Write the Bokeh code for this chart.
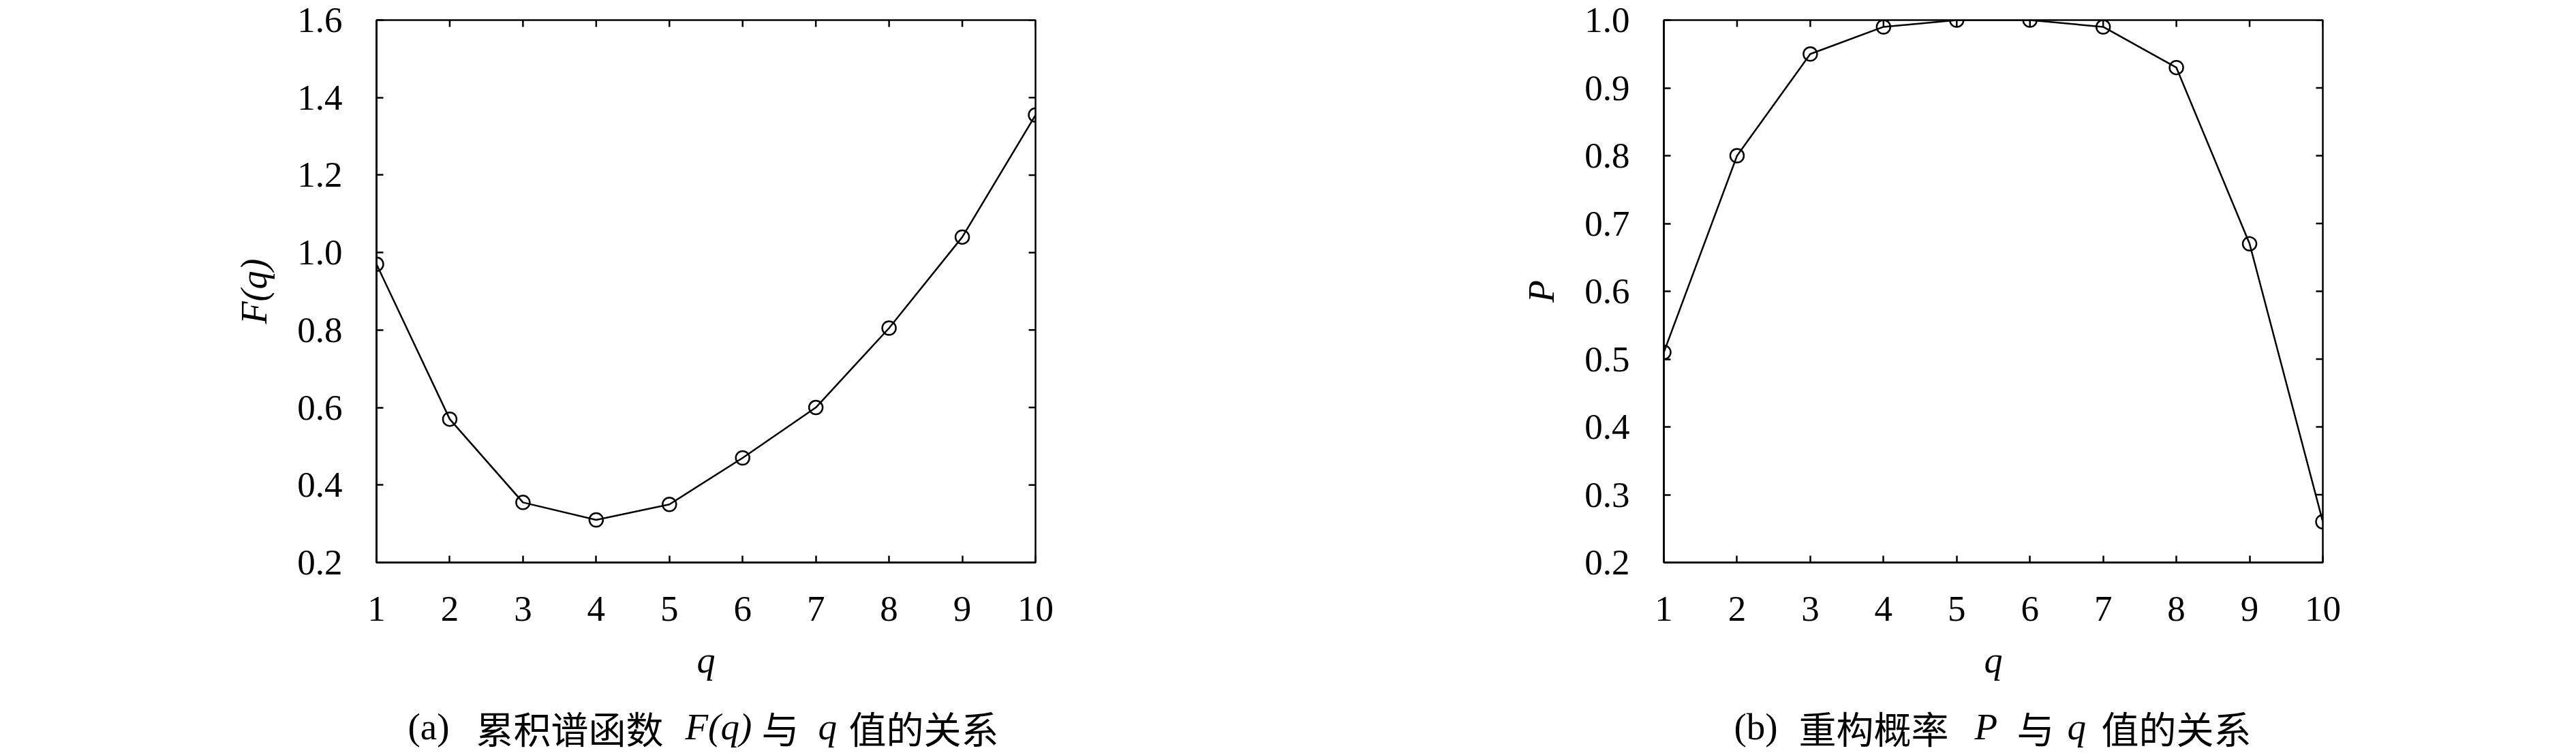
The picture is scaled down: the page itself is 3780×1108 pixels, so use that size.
import math
from bokeh.plotting import figure
from bokeh.layouts import row, column
from bokeh.models import FixedTicker, Range1d, Label, PrintfTickFormatter
from bokeh.embed import file_html
from bokeh.resources import INLINE

# ---------------- data ----------------
q_values = [1, 2, 3, 4, 5, 6, 7, 8, 9, 10]
F_values = [0.97, 0.57, 0.355, 0.31, 0.35, 0.47, 0.60, 0.805, 1.04, 1.355]
P_values = [0.51, 0.80, 0.95, 0.99, 1.00, 1.00, 0.99, 0.93, 0.67, 0.26]

x_ticks = [1, 2, 3, 4, 5, 6, 7, 8, 9, 10]
F_ticks = [0.2, 0.4, 0.6, 0.8, 1.0, 1.2, 1.4, 1.6]
P_ticks = [0.2, 0.3, 0.4, 0.5, 0.6, 0.7, 0.8, 0.9, 1.0]

x_label = "q"
F_label = "F(q)"
P_label = "P"

# caption pieces: (text, kind)  kind: "latin", "cjk", "math"
caption_a = [("(a)", "latin"), ("累积谱函数", "cjk"), ("F(q)", "math"),
             ("与", "cjk"), ("q", "math"), ("值的关系", "cjk")]
caption_b = [("(b)", "latin"), ("重构概率", "cjk"), ("P", "math"),
             ("与", "cjk"), ("q", "math"), ("值的关系", "cjk")]
# horizontal offsets of caption pieces from the plot frame's left edge (px)
caption_a_pos = [46, 146, 453, 565, 648, 693]
caption_b_pos = [103, 198, 456, 518, 592, 642]

SERIF = "Liberation Serif"
CJK = "Noto Sans CJK SC"
FS = "53px"
LW = 2.5
TICK = 10
MAIN_H = 1020
CAP_H = 88


def make_panel(xs, ys, y_range, y_ticks, y_label, width, border_left):
    frame_w = 967
    p = figure(width=width, height=MAIN_H,
               x_range=Range1d(1, 10), y_range=Range1d(*y_range),
               output_backend="svg", toolbar_location=None,
               min_border_left=border_left,
               min_border_right=width - border_left - frame_w,
               min_border_top=29, min_border_bottom=MAIN_H - 825)
    p.xgrid.visible = False
    p.ygrid.visible = False
    p.outline_line_color = "black"
    p.outline_line_width = LW
    p.background_fill_color = "white"
    p.border_fill_color = "white"

    for ax in (p.xaxis[0], p.yaxis[0]):
        ax.major_tick_in = TICK
        ax.major_tick_out = 0
        ax.minor_tick_line_color = None
        ax.axis_line_width = LW
        ax.axis_line_color = "black"
        ax.major_tick_line_width = LW
        ax.major_tick_line_color = "black"
        ax.major_label_text_font = SERIF
        ax.major_label_text_font_size = FS
        ax.major_label_text_color = "black"
        ax.axis_label_text_font = SERIF
        ax.axis_label_text_font_size = "54px"
        ax.axis_label_text_font_style = "italic"
        ax.axis_label_text_color = "black"

    xa = p.xaxis[0]
    xa.ticker = FixedTicker(ticks=x_ticks)
    xa.major_label_standoff = 50
    xa.axis_label = x_label
    xa.axis_label_standoff = 25

    ya = p.yaxis[0]
    ya.ticker = FixedTicker(ticks=y_ticks)
    ya.formatter = PrintfTickFormatter(format="%.1f")
    ya.major_label_standoff = 50
    ya.axis_label = y_label
    ya.axis_label_standoff = 30

    # mirrored inward ticks on the top and right frame edges
    p.ray(x=x_ticks, y=[y_range[1]] * len(x_ticks), length=TICK,
          length_units="screen", angle=-math.pi / 2,
          line_color="black", line_width=LW)
    p.ray(x=[10] * len(y_ticks), y=y_ticks, length=TICK,
          length_units="screen", angle=math.pi,
          line_color="black", line_width=LW)

    p.line(xs, ys, line_color="black", line_width=LW)
    p.scatter(xs, ys, marker="circle", size=20, fill_color=None,
              line_color="black", line_width=LW)
    return p


def make_caption(caption, cap_pos, width, border_left):
    c = figure(width=width, height=CAP_H, x_range=Range1d(0, 1), y_range=Range1d(0, 1),
               x_axis_type=None, y_axis_type=None,
               output_backend="svg", toolbar_location=None,
               min_border_left=border_left,
               min_border_right=width - border_left - 967,
               min_border_top=0, min_border_bottom=0)
    c.xgrid.visible = False
    c.ygrid.visible = False
    c.outline_line_color = None
    c.background_fill_color = "white"
    c.border_fill_color = "white"
    for (txt, kind), xo in zip(caption, cap_pos):
        if kind == "cjk":
            font, style = CJK, "normal"
        elif kind == "math":
            font, style = SERIF, "italic"
        else:
            font, style = SERIF, "normal"
        c.add_layout(Label(x=xo, y=42, x_units="screen", y_units="screen",
                           text=txt, text_font=font, text_font_style=style,
                           text_font_size="55px", text_color="black",
                           text_align="left", text_baseline="middle"))
    return c


W1, W2 = 1890, 1886
B1, B2 = 552, 2441 - 1890
p1 = make_panel(q_values, F_values, (0.2, 1.6), F_ticks, F_label, W1, B1)
p2 = make_panel(q_values, P_values, (0.2, 1.0), P_ticks, P_label, W2, B2)
c1 = make_caption(caption_a, caption_a_pos, W1, B1)
c2 = make_caption(caption_b, caption_b_pos, W2, B2)

layout = row(column(p1, c1), column(p2, c2))
open("out.html", "w").write(file_html(layout, INLINE))
